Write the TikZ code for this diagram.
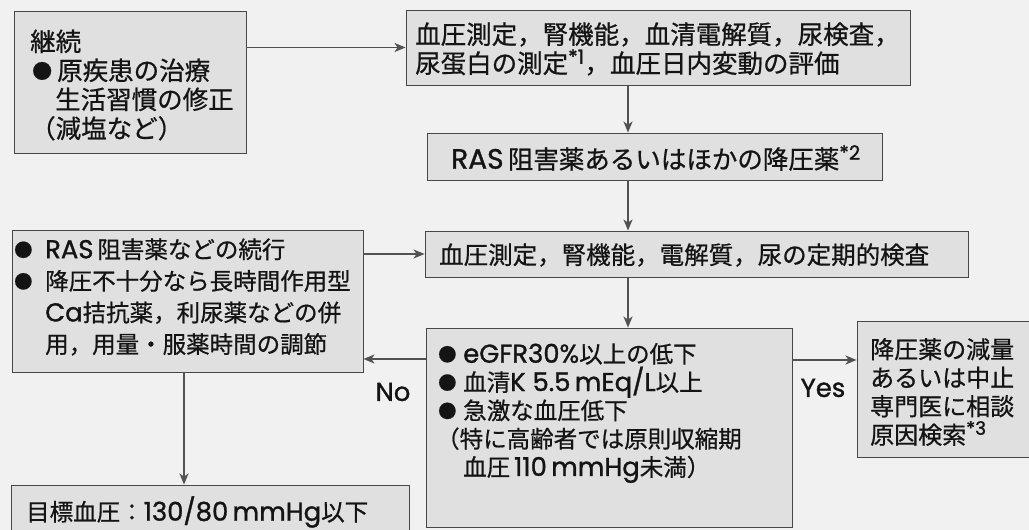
\documentclass[tikz,border=0pt]{standalone}
\usepackage{fontspec}
\setmainfont{Noto Sans CJK JP}[FakeBold=0.7]
\newfontfamily\latfont{Poppins}[Scale=1.1,FakeBold=1.2]
\newcommand\lat[1]{{\latfont #1}}
\usetikzlibrary{arrows.meta}
\newcommand\bul[1]{\makebox[#1][l]{\hspace{2pt}\raisebox{1.5pt}{\scalebox{0.78}{●}}}}
\begin{document}
\begin{tikzpicture}[x=1pt,y=-1pt,
  box/.style={draw=black!72, line width=0.9pt, fill=gray!24, inner sep=0pt},
  txt/.style={anchor=west, align=left, inner sep=0pt, text=black!92},
  big/.style={font=\fontsize{25.5}{29}\selectfont},
  mid/.style={font=\fontsize{24}{28.5}\selectfont},
  sml/.style={font=\fontsize{23.5}{28.3}\selectfont},
  lbl/.style={inner sep=0pt, text=black!92, font=\latfont\fontsize{23.5}{30}\selectfont},
  arr/.style={draw=black!68, line width=1.7pt, -{Stealth[length=11pt,width=9pt,inset=3pt]}}]
\useasboundingbox (0,0) rectangle (1029,530);
\clip (0,0) rectangle (1029,530);
\fill[gray!11] (0,0) rectangle (1029,530);
% boxes
\node[box, minimum width=232pt, minimum height=142pt] (b1) at (130,82) {};
\node[box, minimum width=504pt, minimum height=75pt] (b2) at (658,47.5) {};
\node[box, minimum width=455pt, minimum height=47pt] (b3) at (654.5,156.5) {};
\node[box, minimum width=543pt, minimum height=46pt] (b4) at (696.5,254) {};
\node[box, minimum width=351pt, minimum height=142pt] (b5) at (187.5,301) {};
\node[box, minimum width=366pt, minimum height=199pt] (b6) at (609,427.5) {};
\node[box, minimum width=172pt, minimum height=136pt] (b7) at (943,389) {};
\node[box, minimum width=398pt, minimum height=70pt] (b8) at (210,520) {};
% texts
\node[txt, big] (t1) at (30,85) {継続\\\bul{27pt}原疾患の治療\\\hspace{25pt}生活習慣の修正\\（減塩など）};
\node[txt, big] (t2) at (415,49) {血圧測定，腎機能，血清電解質，尿検査，\\尿蛋白の測定\textsuperscript{\lat{*1}}，血圧日内変動の評価};
\node[txt, big] (t3) at (451,158) {\lat{RAS}\,阻害薬あるいはほかの降圧薬\textsuperscript{\lat{*2}}};
\node[txt, font=\fontsize{24.5}{29}\selectfont] (t4) at (439,255) {血圧測定，腎機能，電解質，尿の定期的検査};
\node[txt, font=\fontsize{23.5}{31.6}\selectfont] (t5) at (12,297) {\bul{33pt}\lat{RAS}\,阻害薬などの続行\\\bul{33pt}降圧不十分なら長時間作用型\\\hspace{33pt}\lat{Ca}拮抗薬，利尿薬などの併\\\hspace{33pt}用，用量・服薬時間の調節};
\node[txt, sml] (t6) at (436,413) {\bul{27pt}\lat{eGFR30\%}以上の低下\\\bul{27pt}血清\lat{K 5.5\,mEq/L}以上\\\bul{27pt}急激な血圧低下\\（特に高齢者では原則収縮期\\\hspace{27pt}血圧\,\lat{110\,mmHg}未満）};
\node[txt, mid] (t7) at (870,392) {降圧薬の減量\\あるいは中止\\専門医に相談\\原因検索\textsuperscript{\lat{*3}}};
\node[txt, sml] (t8) at (26,512) {目標血圧：\lat{130/80\,mmHg}以下};
\node[lbl] (no) at (393,392) {No};
\node[lbl] (yes) at (823,388) {Yes};
% connector helpers
\coordinate (ax) at (628,0);
\coordinate (ny) at (0,359);
\coordinate (yy) at (0,360);
\coordinate (gx) at (184,0);
% connectors
\draw[arr] (b1.east |- b2.west) -- (b2.west);
\draw[arr] (b2.south -| ax) -- (b3.north -| ax);
\draw[arr] (b3.south -| ax) -- (b4.north -| ax);
\draw[arr] (b5.east |- b4.west) -- (b4.west);
\draw[arr] (b4.south -| ax) -- (b6.north -| ax);
\draw[arr] (b6.west |- ny) -- (b5.east |- ny);
\draw[arr] (b6.east |- yy) -- (b7.west |- yy);
\draw[arr] (b5.south -| gx) -- (b8.north -| gx);
\end{tikzpicture}
\end{document}
